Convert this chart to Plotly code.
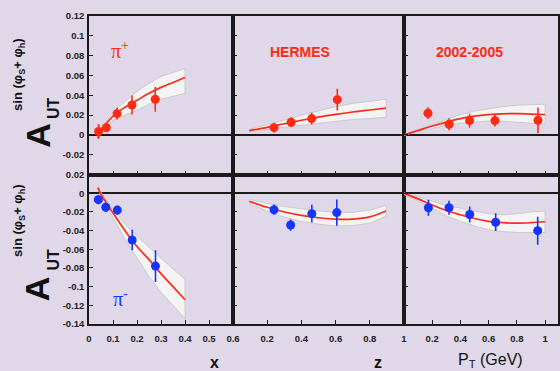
import plotly.graph_objects as go

# ---------------- data ----------------
# x panel, pi+
pip_x = [0.040, 0.072, 0.117, 0.179, 0.276]
pip_x_val = [0.0035, 0.0074, 0.0215, 0.0302, 0.0360]
pip_x_err = [0.0075, 0.0040, 0.0060, 0.0095, 0.0125]
# x panel, pi-
pim_x = [0.039, 0.070, 0.118, 0.180, 0.277]
pim_x_val = [-0.0068, -0.0150, -0.0180, -0.0500, -0.0780]
pim_x_err = [0.0050, 0.0050, 0.0050, 0.0110, 0.0170]

# z panel
pip_z = [0.240, 0.340, 0.460, 0.610]
pip_z_val = [0.0074, 0.0128, 0.0165, 0.0356]
pip_z_err = [0.0050, 0.0050, 0.0060, 0.0110]
pim_z = [0.240, 0.337, 0.461, 0.607]
pim_z_val = [-0.0176, -0.0340, -0.0218, -0.0207]
pim_z_err = [0.0055, 0.0060, 0.0094, 0.0140]

# P_T panel
pip_pt = [0.170, 0.320, 0.465, 0.645, 0.950]
pip_pt_val = [0.0220, 0.0108, 0.0145, 0.0145, 0.0148]
pip_pt_err = [0.0060, 0.0060, 0.0070, 0.0060, 0.0130]
pim_pt = [0.173, 0.319, 0.466, 0.650, 0.948]
pim_pt_val = [-0.0155, -0.0155, -0.0227, -0.0310, -0.0400]
pim_pt_err = [0.0085, 0.0075, 0.0085, 0.0095, 0.0150]

# model curves and bands
x_grid = [0.037, 0.05, 0.10, 0.15, 0.20, 0.25, 0.30, 0.35, 0.40]
pip_x_curve = [-0.003, 0.004, 0.019, 0.028, 0.035, 0.042, 0.048, 0.053, 0.058]
pip_x_up = [-0.002, 0.006, 0.023, 0.034, 0.044, 0.052, 0.059, 0.063, 0.067]
pip_x_lo = [-0.004, 0.002, 0.015, 0.020, 0.025, 0.031, 0.036, 0.039, 0.042]
pim_x_curve = [0.006, -0.001, -0.021, -0.040, -0.057, -0.071, -0.086, -0.100, -0.114]
pim_x_up = [0.007, 0.001, -0.017, -0.033, -0.046, -0.058, -0.070, -0.081, -0.092]
pim_x_lo = [0.005, -0.003, -0.026, -0.049, -0.069, -0.089, -0.106, -0.120, -0.134]

z_grid = [0.095, 0.2, 0.3, 0.4, 0.5, 0.6, 0.7, 0.8, 0.895]
pip_z_curve = [0.0044, 0.0077, 0.0113, 0.0148, 0.0180, 0.0208, 0.0232, 0.0252, 0.0270]
pip_z_up = [0.0055, 0.0100, 0.0150, 0.0200, 0.0245, 0.0285, 0.0318, 0.0343, 0.0360]
pip_z_lo = [0.0033, 0.0055, 0.0078, 0.0100, 0.0120, 0.0138, 0.0155, 0.0168, 0.0178]
pim_z_curve = [-0.0087, -0.0150, -0.0200, -0.0237, -0.0262, -0.0277, -0.0276, -0.0253, -0.0190]
pim_z_up = [-0.0065, -0.0110, -0.0142, -0.0168, -0.0190, -0.0205, -0.0205, -0.0180, -0.0130]
pim_z_lo = [-0.0110, -0.0190, -0.0255, -0.0300, -0.0330, -0.0350, -0.0345, -0.0320, -0.0245]

pt_grid = [0.0, 0.1, 0.2, 0.3, 0.4, 0.5, 0.6, 0.7, 0.8, 0.9, 1.0]
pip_pt_curve = [0.0, 0.0045, 0.009, 0.013, 0.0165, 0.019, 0.0205, 0.0213, 0.0215, 0.021, 0.0205]
pip_pt_up = [0.0005, 0.0055, 0.011, 0.016, 0.0205, 0.024, 0.0265, 0.0285, 0.030, 0.0308, 0.031]
pip_pt_lo = [-0.0005, 0.0035, 0.007, 0.0098, 0.012, 0.0133, 0.014, 0.0138, 0.013, 0.012, 0.011]
pim_pt_curve = [0.0, -0.006, -0.0125, -0.0185, -0.023, -0.027, -0.030, -0.0315, -0.032, -0.0315, -0.0305]
pim_pt_up = [0.0005, -0.004, -0.009, -0.013, -0.016, -0.019, -0.022, -0.023, -0.022, -0.020, -0.019]
pim_pt_lo = [-0.0015, -0.008, -0.016, -0.024, -0.030, -0.035, -0.039, -0.041, -0.042, -0.042, -0.042]

# tick labels
x_ticks = [0, 0.1, 0.2, 0.3, 0.4, 0.5, 0.6]
z_ticks = [0.2, 0.4, 0.6, 0.8, 1.0]
pt_ticks = [0.2, 0.4, 0.6, 0.8, 1.0]
y_ticks_top = [-0.02, 0, 0.02, 0.04, 0.06, 0.08, 0.1, 0.12]
y_ticks_bot = [-0.14, -0.12, -0.1, -0.08, -0.06, -0.04, -0.02, 0, 0.02]

# ---------------- style ----------------
BG = "#E0D7E8"
RED = "#FF2A12"
BLUE = "#1634FF"
CURVE = "#FF2A1A"
AX = "#1a1a1a"

fig = go.Figure()

panels = [
    ("x", "y", x_grid, pip_x_curve, pip_x_up, pip_x_lo, pip_x, pip_x_val, pip_x_err, RED),
    ("x2", "y2", z_grid, pip_z_curve, pip_z_up, pip_z_lo, pip_z, pip_z_val, pip_z_err, RED),
    ("x3", "y3", pt_grid, pip_pt_curve, pip_pt_up, pip_pt_lo, pip_pt, pip_pt_val, pip_pt_err, RED),
    ("x4", "y4", x_grid, pim_x_curve, pim_x_up, pim_x_lo, pim_x, pim_x_val, pim_x_err, BLUE),
    ("x5", "y5", z_grid, pim_z_curve, pim_z_up, pim_z_lo, pim_z, pim_z_val, pim_z_err, BLUE),
    ("x6", "y6", pt_grid, pim_pt_curve, pim_pt_up, pim_pt_lo, pim_pt, pim_pt_val, pim_pt_err, BLUE),
]

for xr, yr, g, c, up, lo, px, pv, pe, col in panels:
    fig.add_trace(go.Scatter(
        x=list(g) + list(g)[::-1], y=list(up) + list(lo)[::-1],
        fill="toself", fillcolor="#F4F4F4", mode="lines",
        line=dict(color="#C4C4C4", width=0.8),
        xaxis=xr, yaxis=yr, showlegend=False, hoverinfo="skip"))
    fig.add_trace(go.Scatter(
        x=g, y=c, mode="lines", line=dict(color=CURVE, width=1.7, shape="spline"),
        xaxis=xr, yaxis=yr, showlegend=False))
    fig.add_trace(go.Scatter(
        x=px, y=pv, mode="markers",
        marker=dict(color=col, size=9),
        error_y=dict(type="data", array=pe, color=col, thickness=1.6, width=0),
        xaxis=xr, yaxis=yr, showlegend=False))

# ---------------- axes ----------------
d1 = 144 / 469
d2 = 315 / 469
yb = 0.485
tickfont = dict(family="Liberation Sans, Arial", size=9.5, color="#222", weight="bold")

common = dict(showline=True, mirror=True, linecolor=AX, linewidth=1.5,
              ticks="inside", ticklen=4, tickwidth=1, tickcolor=AX,
              showgrid=False, tickfont=tickfont, automargin=False)


def fmt(v):
    return "0" if v == 0 else f"{v:g}"


xdefs = [
    ([0, d1], [0, 0.6], x_ticks),
    ([d1, d2], [0, 1.0], z_ticks),
    ([d2, 1], [0, 1.092], pt_ticks),
]
for row in range(2):
    for col in range(3):
        i = row * 3 + col + 1
        name = "xaxis" if i == 1 else f"xaxis{i}"
        yname = "y" if i == 1 else f"y{i}"
        dom, rng, tv = xdefs[col]
        fig.layout[name] = dict(
            domain=dom, range=rng, anchor=yname, tickvals=tv,
            ticktext=[fmt(v) for v in tv], showticklabels=(row == 1),
            zeroline=False, ticklabelstandoff=5, **common)
        yax = "yaxis" if i == 1 else f"yaxis{i}"
        xname = "x" if i == 1 else f"x{i}"
        ydom = [yb, 1] if row == 0 else [0, yb]
        yr = [-0.04, 0.12] if row == 0 else [-0.14, 0.02]
        yt = y_ticks_top if row == 0 else y_ticks_bot
        fig.layout[yax] = dict(
            domain=ydom, range=yr, anchor=xname, tickvals=yt,
            ticktext=[fmt(v) for v in yt], showticklabels=(col == 0),
            zeroline=True, zerolinecolor=AX, zerolinewidth=1.5,
            ticklabelstandoff=1, **common)

# ---------------- annotations ----------------
ann = []
sans = "Liberation Sans, Arial"
for (ya, yu, ys) in [(0.612, 0.703, 0.812), (0.1136, 0.211, 0.3377)]:
    ann.append(dict(xref="paper", yref="paper", x=-0.1103, y=ya, text="<b>A</b>",
                    textangle=-90, showarrow=False, xanchor="center", yanchor="middle",
                    font=dict(family=sans, size=34, color="#111")))
    ann.append(dict(xref="paper", yref="paper", x=-0.0757, y=yu, text="<b>UT</b>",
                    textangle=-90, showarrow=False, xanchor="center", yanchor="middle",
                    font=dict(family=sans, size=16, color="#111")))
    ann.append(dict(xref="paper", yref="paper", x=-0.1493, y=ys,
                    text="<b>sin (φ<sub>S</sub>+ φ<sub>h</sub>)</b>",
                    textangle=-90, showarrow=False, xanchor="center", yanchor="middle",
                    font=dict(family=sans, size=13, color="#111")))

ann += [
    dict(xref="x", yref="y", x=0.129, y=0.0857, text="π<sup>+</sup>", showarrow=False,
         font=dict(family="Liberation Serif, Times New Roman", size=20, color=RED)),
    dict(xref="x4", yref="y4", x=0.133, y=-0.1126, text="π<sup>-</sup>", showarrow=False,
         font=dict(family="Liberation Serif, Times New Roman", size=20, color=BLUE)),
    dict(xref="x2", yref="y2", x=0.39, y=0.084, text="<b>HERMES</b>", showarrow=False,
         font=dict(family=sans, size=14, color=RED)),
    dict(xref="x3", yref="y3", x=0.4645, y=0.084, text="<b>2002-2005</b>", showarrow=False,
         font=dict(family=sans, size=14, color=RED)),
    dict(xref="paper", yref="paper", x=(208 - 89) / 469, y=(324 - 362) / 308, text="<b>x</b>",
         showarrow=False, yanchor="middle", font=dict(family=sans, size=16, color="#111")),
    dict(xref="paper", yref="paper", x=(378 - 89) / 469, y=(324 - 362) / 308, text="<b>z</b>",
         showarrow=False, yanchor="middle", font=dict(family=sans, size=16, color="#111")),
    dict(xref="paper", yref="paper", x=(525 - 89) / 469, y=(324 - 360) / 308,
         text="P<sub>T</sub> (GeV)", showarrow=False, yanchor="middle",
         font=dict(family=sans, size=16, color="#111")),
]

fig.update_layout(
    template="none",
    width=560, height=371,
    margin=dict(l=89, r=2, t=16, b=47, autoexpand=False),
    paper_bgcolor=BG, plot_bgcolor=BG,
    annotations=ann, showlegend=False,
)

fig.write_html("out.html", config={"displayModeBar": False},
               post_script="document.body.style.margin='0';")
